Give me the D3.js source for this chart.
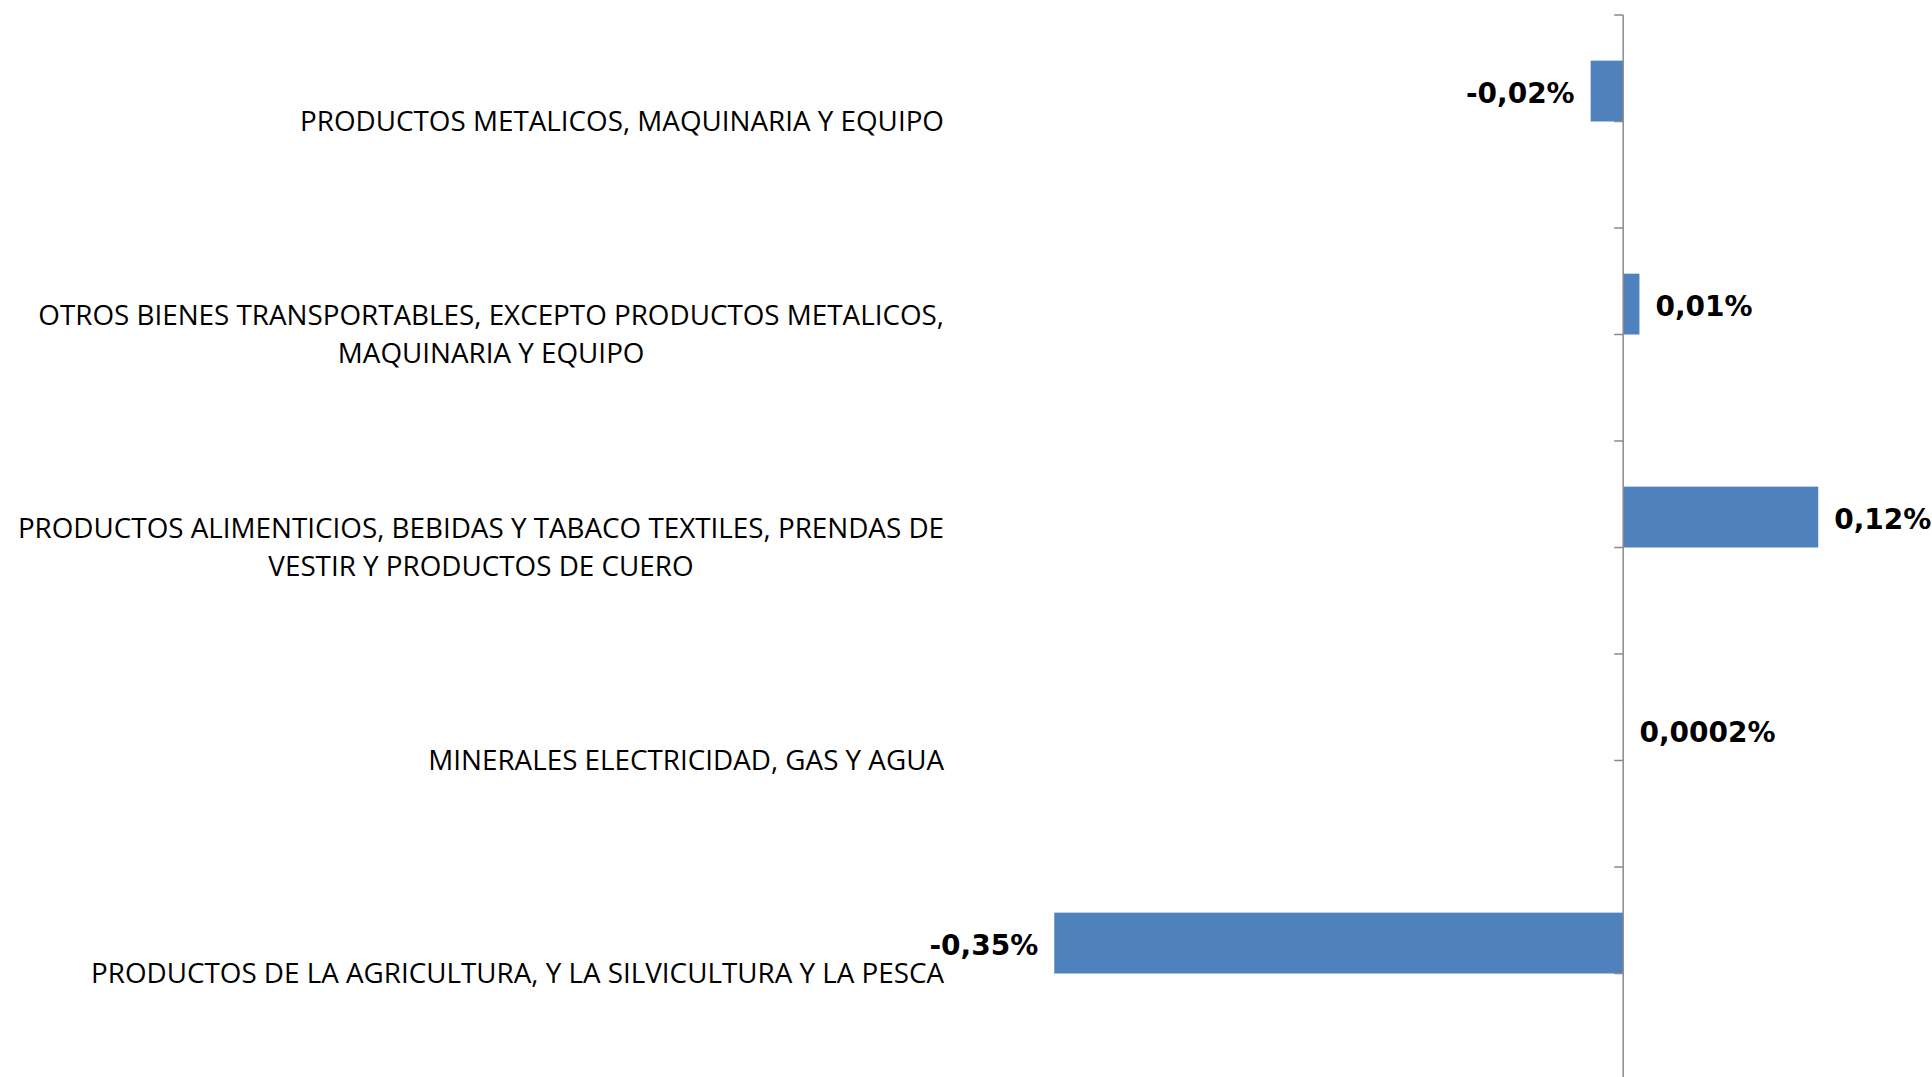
<!DOCTYPE html>
<html>
<head>
<meta charset="utf-8">
<script src="https://cdn.jsdelivr.net/npm/d3@7"></script>
<style>
  html, body { margin: 0; padding: 0; background: #fff; }
</style>
</head>
<body>
<div id="chart"></div>
<script>
const categories = [
  'PRODUCTOS METALICOS, MAQUINARIA Y EQUIPO',
  'OTROS BIENES TRANSPORTABLES, EXCEPTO PRODUCTOS METALICOS, MAQUINARIA Y EQUIPO',
  'PRODUCTOS ALIMENTICIOS, BEBIDAS Y TABACO TEXTILES, PRENDAS DE VESTIR Y PRODUCTOS DE CUERO',
  'MINERALES ELECTRICIDAD, GAS Y AGUA',
  'PRODUCTOS DE LA AGRICULTURA, Y LA SILVICULTURA Y LA PESCA',
];
// label lines as they wrap in the chart
const categoryLines = [
  ['PRODUCTOS METALICOS, MAQUINARIA Y EQUIPO'],
  ['OTROS BIENES TRANSPORTABLES, EXCEPTO PRODUCTOS METALICOS,', 'MAQUINARIA Y EQUIPO'],
  ['PRODUCTOS ALIMENTICIOS, BEBIDAS Y TABACO TEXTILES, PRENDAS DE', 'VESTIR Y PRODUCTOS DE CUERO'],
  ['MINERALES ELECTRICIDAD, GAS Y AGUA'],
  ['PRODUCTOS DE LA AGRICULTURA, Y LA SILVICULTURA Y LA PESCA'],
];
// variation, in percent
const values = [-0.02, 0.01, 0.12, 0.0002, -0.35];
const valueLabels = ['-0,02%', '0,01%', '0,12%', '0,0002%', '-0,35%'];
const xDomain = [-0.4, 0.15];

const width = 1932;
const height = 1077;

const svg = d3.select('#chart')
  .append('svg')
    .attr('width', width)
    .attr('height', height);

const x = d3.scaleLinear()
  .domain(xDomain)
  .range([973, 1867]);

const y = d3.scaleBand()
  .domain(categories)
  .range([15, 1080])
  .padding(0);

const bw = y.bandwidth();
const barH = bw / 3.5; // two series slots, gap width 150%
const axisX = x(0);

const data = categories.map((c, i) => ({
  category: c,
  lines: categoryLines[i],
  value: values[i],
  label: valueLabels[i],
}));

// bars
svg.append('g')
    .attr('class', 'bars')
  .selectAll('rect')
  .data(data)
  .join('rect')
    .attr('x', d => x(Math.min(0, d.value)))
    .attr('y', d => y(d.category) + bw / 2 - barH)
    .attr('width', d => Math.abs(x(d.value) - x(0)))
    .attr('height', barH)
    .attr('fill', '#4f81bd');

// vertical category axis with ticks at band edges and centres
const tickYs = [];
categories.forEach(c => {
  tickYs.push(y(c), y(c) + bw / 2);
});
tickYs.push(y.range()[1]);

const axis = svg.append('g')
    .attr('class', 'axis');

axis.append('line')
    .attr('x1', axisX)
    .attr('x2', axisX)
    .attr('y1', y.range()[0])
    .attr('y2', y.range()[1])
    .attr('stroke', '#8a8a8a')
    .attr('stroke-width', 1.5);

axis.selectAll('.tick')
  .data(tickYs)
  .join('line')
    .attr('class', 'tick')
    .attr('x1', axisX - 9)
    .attr('x2', axisX)
    .attr('y1', d => d)
    .attr('y2', d => d)
    .attr('stroke', '#8a8a8a')
    .attr('stroke-width', 1.5);

// category labels: block right-aligned, lines centred on each other
const labelRight = 944;
const lineHeight = 38;

const catLabels = svg.append('g')
    .attr('class', 'catLabels')
  .selectAll('text')
  .data(data)
  .join('text')
    .attr('font-family', '"Open Sans", sans-serif')
    .attr('font-size', 27.8)
    .attr('fill', '#000')
    .attr('text-anchor', 'middle');

catLabels.each(function (d) {
  const text = d3.select(this);
  const n = d.lines.length;
  const cy = y(d.category) + bw / 2;
  const spans = d.lines.map((line, i) => text
    .append('tspan')
      .attr('y', cy + (i - (n - 1) / 2) * lineHeight)
      .attr('dy', '0.33em')
      .text(line));
  const maxW = d3.max(spans, s => s.node().getComputedTextLength());
  spans.forEach(s => s.attr('x', labelRight - maxW / 2));
});

// value labels
svg.append('g')
    .attr('class', 'valueLabels')
  .selectAll('text')
  .data(data)
  .join('text')
    .attr('x', d => d.value < 0 ? x(d.value) - 16 : x(d.value) + 16)
    .attr('y', d => y(d.category) + bw / 2 - barH / 2)
    .attr('dy', '0.42em')
    .attr('text-anchor', d => d.value < 0 ? 'end' : 'start')
    .attr('font-family', '"DejaVu Sans", sans-serif')
    .attr('font-weight', 'bold')
    .attr('font-size', 28)
    .attr('fill', '#000')
    .text(d => d.label);
</script>
</body>
</html>
